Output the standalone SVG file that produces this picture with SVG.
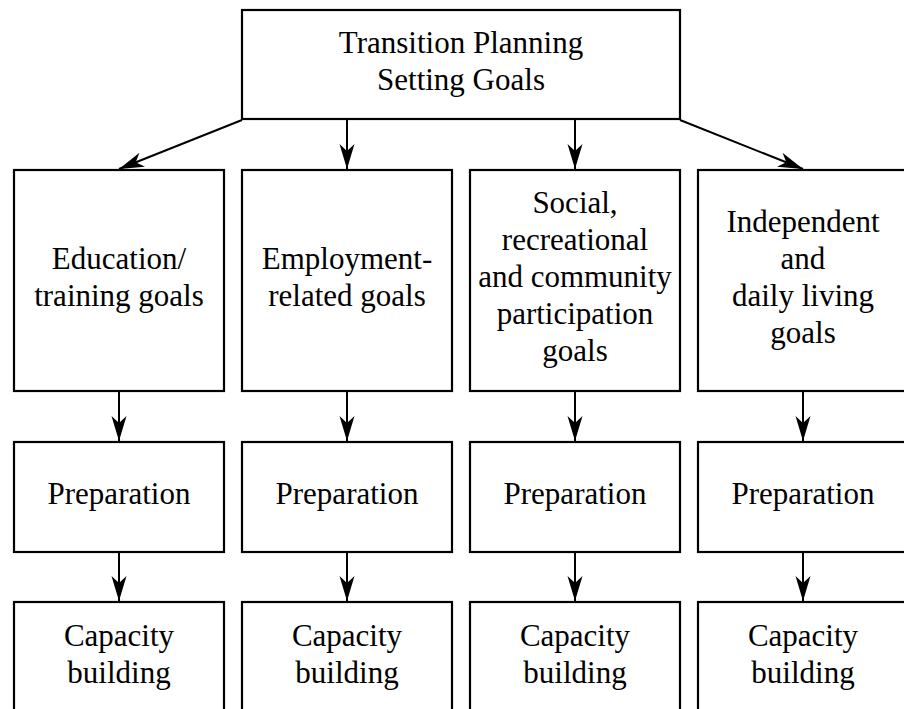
<svg xmlns="http://www.w3.org/2000/svg" width="904" height="709" viewBox="0 0 904 709">
  <style>
    .box { fill: #ffffff; stroke: #000000; stroke-width: 2.2; }
    .lbl { font-family: "Liberation Serif", "Times New Roman", serif; font-size: 31px; fill: #000000; text-anchor: middle; }
    .arr { fill: none; stroke: #000000; stroke-width: 2; marker-end: url(#head); }
  </style>
  <defs>
    <marker id="head" markerUnits="userSpaceOnUse" markerWidth="30" markerHeight="20" viewBox="-26 -10 28 20" refX="0" refY="0" orient="auto">
      <path d="M0,0 L-25,-7.5 L-18,0 L-25,7.5 Z" fill="#000000"/>
    </marker>
  </defs>
  <rect width="904" height="709" fill="#ffffff"/>

  <!-- connectors -->
  <g id="connectors">
    <line class="arr" x1="242" y1="120" x2="119" y2="169"/>
    <line class="arr" x1="347" y1="120" x2="347" y2="169"/>
    <line class="arr" x1="575" y1="120" x2="575" y2="169"/>
    <line class="arr" x1="680" y1="120" x2="803" y2="169"/>

    <line class="arr" x1="119" y1="392" x2="119" y2="441"/>
    <line class="arr" x1="347" y1="392" x2="347" y2="441"/>
    <line class="arr" x1="575" y1="392" x2="575" y2="441"/>
    <line class="arr" x1="803" y1="392" x2="803" y2="441"/>

    <line class="arr" x1="119" y1="552" x2="119" y2="601"/>
    <line class="arr" x1="347" y1="552" x2="347" y2="601"/>
    <line class="arr" x1="575" y1="552" x2="575" y2="601"/>
    <line class="arr" x1="803" y1="552" x2="803" y2="601"/>
  </g>

  <!-- root -->
  <g id="transition-planning">
    <rect class="box" x="242" y="10" width="438" height="109"/>
    <text class="lbl" x="461" y="53">Transition Planning</text>
    <text class="lbl" x="461" y="90">Setting Goals</text>
  </g>

  <!-- goal areas -->
  <g id="education-goals">
    <rect class="box" x="14" y="170" width="210" height="221"/>
    <text class="lbl" x="119" y="269">Education/</text>
    <text class="lbl" x="119" y="306">training goals</text>
  </g>
  <g id="employment-goals">
    <rect class="box" x="242" y="170" width="210" height="221"/>
    <text class="lbl" x="347" y="269">Employment-</text>
    <text class="lbl" x="347" y="306">related goals</text>
  </g>
  <g id="social-goals">
    <rect class="box" x="470" y="170" width="210" height="221"/>
    <text class="lbl" x="575" y="213">Social,</text>
    <text class="lbl" x="575" y="250">recreational</text>
    <text class="lbl" x="575" y="287">and community</text>
    <text class="lbl" x="575" y="324">participation</text>
    <text class="lbl" x="575" y="361">goals</text>
  </g>
  <g id="independent-goals">
    <rect class="box" x="698" y="170" width="210" height="221"/>
    <text class="lbl" x="803" y="232">Independent</text>
    <text class="lbl" x="803" y="269">and</text>
    <text class="lbl" x="803" y="306">daily living</text>
    <text class="lbl" x="803" y="343">goals</text>
  </g>

  <!-- preparation row -->
  <g id="preparation-1">
    <rect class="box" x="14" y="442" width="210" height="110"/>
    <text class="lbl" x="119" y="504">Preparation</text>
  </g>
  <g id="preparation-2">
    <rect class="box" x="242" y="442" width="210" height="110"/>
    <text class="lbl" x="347" y="504">Preparation</text>
  </g>
  <g id="preparation-3">
    <rect class="box" x="470" y="442" width="210" height="110"/>
    <text class="lbl" x="575" y="504">Preparation</text>
  </g>
  <g id="preparation-4">
    <rect class="box" x="698" y="442" width="210" height="110"/>
    <text class="lbl" x="803" y="504">Preparation</text>
  </g>

  <!-- capacity building row -->
  <g id="capacity-1">
    <rect class="box" x="14" y="602" width="210" height="130"/>
    <text class="lbl" x="119" y="646">Capacity</text>
    <text class="lbl" x="119" y="683">building</text>
  </g>
  <g id="capacity-2">
    <rect class="box" x="242" y="602" width="210" height="130"/>
    <text class="lbl" x="347" y="646">Capacity</text>
    <text class="lbl" x="347" y="683">building</text>
  </g>
  <g id="capacity-3">
    <rect class="box" x="470" y="602" width="210" height="130"/>
    <text class="lbl" x="575" y="646">Capacity</text>
    <text class="lbl" x="575" y="683">building</text>
  </g>
  <g id="capacity-4">
    <rect class="box" x="698" y="602" width="210" height="130"/>
    <text class="lbl" x="803" y="646">Capacity</text>
    <text class="lbl" x="803" y="683">building</text>
  </g>
</svg>
